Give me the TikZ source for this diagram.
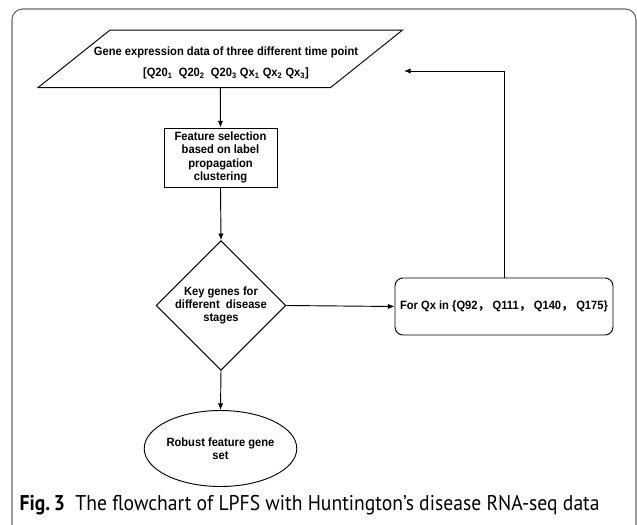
\documentclass[tikz,border=0pt]{standalone}
\usepackage{fontspec}
\setmainfont{Liberation Sans}[FakeStretch=0.93]
\newfontfamily\capfont{PT Sans}[FakeStretch=0.92]
\newfontfamily\cjk{Noto Sans CJK SC}
\newcommand{\wcomma}{{\cjk ，}}
\usetikzlibrary{shapes.geometric,arrows.meta}
\tikzset{
  flow/.style={draw,line width=0.7pt,align=center,inner sep=0pt},
  procbox/.style={flow,rectangle,minimum width=84.75pt,minimum height=44.25pt},
  decide/.style={flow,diamond,minimum width=86.25pt,minimum height=80.25pt},
  loopbox/.style={flow,rectangle,rounded corners=6pt,minimum width=163.5pt,minimum height=42.75pt},
  endset/.style={flow,ellipse,minimum width=86.25pt,minimum height=57pt},
  link/.style={line width=0.7pt,->}
}
\begin{document}
\begin{tikzpicture}[x=0.75pt,y=-0.75pt,font=\fontsize{9}{10}\selectfont\bfseries,
    >={Latex[length=5pt,width=4pt]}]
  \useasboundingbox (0,0) rectangle (637,525);
  \begin{scope}
    \clip (0,0) rectangle (637,525);
    \draw[black!60,line width=0.8pt,rounded corners=8pt] (12,9) rectangle (636,545);
  \end{scope}
  \node[inner sep=0pt,minimum width=219pt,minimum height=42.75pt] (data) at (220.3,58.8) {};
  \draw[line width=0.7pt] ([xshift=27pt]data.north west) -- ([xshift=27pt]data.north east)
    -- ([xshift=-27pt]data.south east) -- ([xshift=-27pt]data.south west) -- cycle;
  \node[align=center] (datatext) at (226,63)
    {Gene expression data of three different time point\\[6pt]
     {[}Q20\textsubscript{1}\ \ Q20\textsubscript{2}\ \ Q20\textsubscript{3} Qx\textsubscript{1} Qx\textsubscript{2} Qx\textsubscript{3}{]}};
  \node[procbox] (feature) at (220.5,157.5)
    {Feature selection\\based on label\\propagation\\clustering};
  \node[decide] (key) at (221,305.5)
    {Key genes for\\different\ \ disease\\stages};
  \node[endset] (robust) at (220.5,448.5) {Robust feature gene\\set};
  \node[loopbox] (loop) at (504,306.5)
    {For Qx in \{Q92\wcomma\ Q111\wcomma\ Q140\wcomma\ Q175\}};
  \coordinate (back) at (404,71);
  \draw[link] (data.south) -- (feature.north);
  \draw[link] (feature.south) -- (key.north);
  \draw[link] (key.south) -- (robust.north);
  \draw[link] (key.east) -- (loop.west);
  \draw[link] (loop.north) |- (back);
  \node[anchor=base west,font=\capfont\fontsize{16}{18}\selectfont] (caption) at (15,510)
    {\textbf{Fig.\,3}\ \ The flowchart of LPFS with Huntington’s disease RNA-seq data};
\end{tikzpicture}
\end{document}
